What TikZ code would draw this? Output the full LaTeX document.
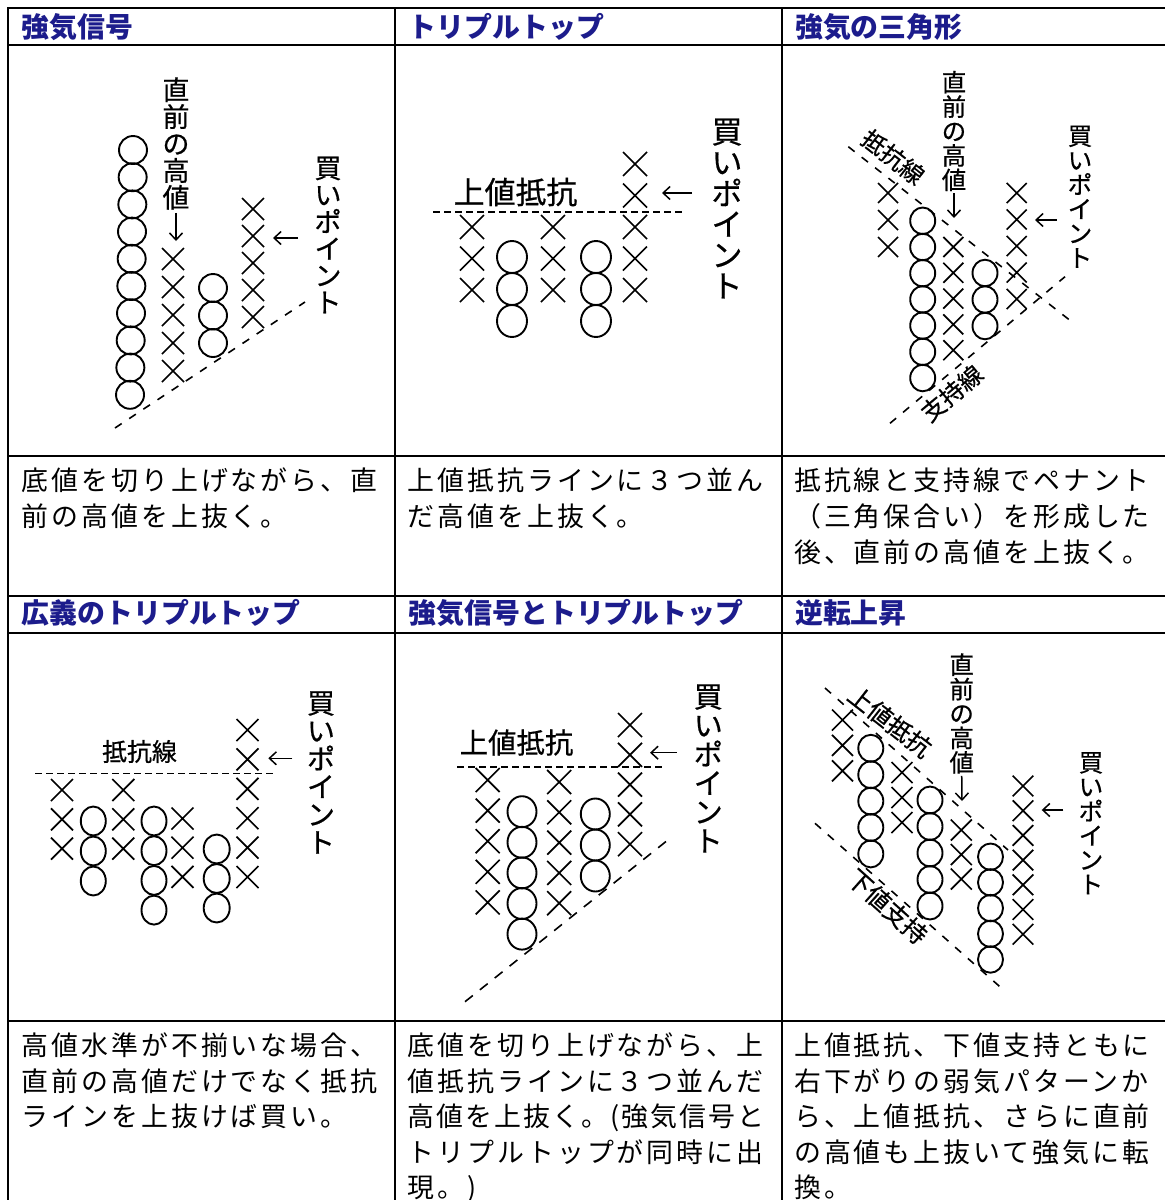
\documentclass[tikz,border=0pt]{standalone}
\usepackage{fontspec}
\usetikzlibrary{arrows.meta}
\newfontfamily\jp{Noto Sans CJK JP}
\newfontfamily\jpl[FakeBold=0.6]{Noto Sans CJK JP}
\newfontfamily\jpsp[LetterSpace=11.1]{Noto Sans CJK JP}
\definecolor{hdrc}{RGB}{28,28,140}
\newcommand\vf[1]{\jpl\fontsize{#1}{#1}\selectfont}
% column of X marks: x0 y0 dx dy n halfsize
\newcommand\xcol[6]{%
  \foreach \k in {1,...,#5}{%
    \pgfmathsetmacro\cx{#1+(\k-1)*(#3)}%
    \pgfmathsetmacro\cy{#2+(\k-1)*(#4)}%
    \draw[xsym] (\cx-#6,\cy-#6) -- (\cx+#6,\cy+#6) (\cx-#6,\cy+#6) -- (\cx+#6,\cy-#6);
  }}
% column of O marks: x0 y0 dx dy n rx ry
\newcommand\ocol[7]{%
  \foreach \k in {1,...,#5}{%
    \pgfmathsetmacro\cx{#1+(\k-1)*(#3)}%
    \pgfmathsetmacro\cy{#2+(\k-1)*(#4)}%
    \draw[osym] (\cx,\cy) ellipse[x radius=#6bp, y radius=#7bp];
  }}
\begin{document}
\begin{tikzpicture}[x=1bp,y=-1bp,
  grid/.style={line width=2bp},
  xsym/.style={line width=1.7bp},
  osym/.style={line width=1.9bp},
  dsh/.style={line width=1.6bp, dash pattern=on 8bp off 9bp},
  dshf/.style={line width=1.6bp, dash pattern=on 7bp off 4bp},
  arr/.style={line width=1.5bp, -{Straight Barb[length=7bp,width=13bp]}},
  hdr/.style={anchor=base west, inner sep=0, text=hdrc, font=\jp\bfseries\fontsize{28}{28}\selectfont},
  body/.style={anchor=base west, inner sep=0, font=\jpsp\fontsize{27}{36}\selectfont},
  bodyp/.style={anchor=base west, inner sep=0, font=\jp\fontsize{27}{36}\selectfont},
  vlab/.style={align=center, inner sep=0},
  hlab/.style={inner sep=0}]
\useasboundingbox (0,0) rectangle (1165,1200);
\fill[white] (0,0) rectangle (1165,1200);
\clip (0,0) rectangle (1165,1200);
% ---------- table grid ----------
\draw[grid] (8,1210) -- (8,8) -- (1175,8);
\draw[grid] (395,8) -- (395,1210);
\draw[grid] (782,8) -- (782,1210);
\foreach \yy in {45,456,596,633,1021}{\draw[grid] (8,\yy) -- (1175,\yy);}
% ---------- headers ----------
\node[hdr] (h1) at (21.5,37.6) {強気信号};
\node[hdr] (h2) at (408.5,37.6) {トリプルトップ};
\node[hdr] (h3) at (795,37.6) {強気の三角形};
\node[hdr] (h4) at (21.5,623.6) {広義のトリプルトップ};
\node[hdr] (h5) at (408.5,623.6) {強気信号とトリプルトップ};
\node[hdr] (h6) at (795,623.6) {逆転上昇};
% ---------- body text ----------
\node[body] (t1a) at (21.5,490.3) {底値を切り上げながら、直};
\node[body] (t1b) at (21.5,526.3) {前の高値を上抜く。};
\node[body] (t2a) at (407.5,490.3) {上値抵抗ラインに３つ並ん};
\node[body] (t2b) at (407.5,526.3) {だ高値を上抜く。};
\node[body] (t3a) at (794,490.3) {抵抗線と支持線でペナント};
\node[body] (t3b) at (794,526.3) {（三角保合い）を形成した};
\node[body] (t3c) at (794,562.3) {後、直前の高値を上抜く。};
\node[body] (t4a) at (21.5,1055.3) {高値水準が不揃いな場合、};
\node[body] (t4b) at (21.5,1091) {直前の高値だけでなく抵抗};
\node[body] (t4c) at (21.5,1126.8) {ラインを上抜けば買い。};
\node[body] (t5a) at (407.5,1055.3) {底値を切り上げながら、上};
\node[body] (t5b) at (407.5,1091) {値抵抗ラインに３つ並んだ};
\node[bodyp] (t5c) at (407.5,1126.8) {\makebox[357bp][s]{高\hfil 値\hfil を\hfil 上\hfil 抜\hfil く\hfil 。\hfil (\hfil 強\hfil 気\hfil 信\hfil 号\hfil と}};
\node[body] (t5d) at (407.5,1162.5) {トリプルトップが同時に出};
\node[body] (t5e) at (407.5,1197.8) {現。)};
\node[body] (t6a) at (794,1055.3) {上値抵抗、下値支持ともに};
\node[body] (t6b) at (794,1091) {右下がりの弱気パターンか};
\node[body] (t6c) at (794,1126.8) {ら、上値抵抗、さらに直前};
\node[body] (t6d) at (794,1162.5) {の高値も上抜いて強気に転};
\node[body] (t6e) at (794,1197.8) {換。};
% ---------- panel 1: 強気信号 ----------
\ocol{133}{150}{-0.33}{27.2}{10}{14}{14}
\xcol{173}{259}{0}{28}{5}{11}
\ocol{213}{288}{0}{27.5}{3}{14}{14}
\xcol{253}{209}{0}{27}{5}{11}
\node[vlab,font=\vf{27}] (p1hi) at (176,143.5) {直\\前\\の\\高\\値};
\coordinate (p1hiend) at (176,241);
\draw[arr,shorten <=3bp] (p1hi.south) -- (p1hiend);
\node[vlab,font=\vf{27}] (p1buy) at (328,235) {買\\い\\ポ\\イ\\ン\\ト};
\coordinate (p1a0) at (298,238); \coordinate (p1a1) at (273,238);
\draw[arr] (p1a0) -- (p1a1);
\coordinate (p1s0) at (115,428); \coordinate (p1s1) at (305,302);
\draw[dsh] (p1s0) -- (p1s1);
% ---------- panel 2: トリプルトップ ----------
\node[hlab,font=\vf{31}] (p2res) at (515.5,192) {上値抵抗};
\coordinate (p2r0) at (433,212); \coordinate (p2r1) at (685,212);
\draw[dshf] (p2r0) -- (p2r1);
\xcol{472}{227}{0}{31.5}{3}{12}
\ocol{512}{257}{0}{32}{3}{15}{16}
\xcol{553}{227}{0}{31.5}{3}{12}
\ocol{596}{257}{0}{32}{3}{15}{16}
\xcol{635}{164}{0}{31.5}{5}{12}
\coordinate (p2a0) at (692,193); \coordinate (p2a1) at (662,193);
\draw[arr] (p2a0) -- (p2a1);
\node[vlab,font=\vf{31}] (p2buy) at (727,208.5) {買\\い\\ポ\\イ\\ン\\ト};
% ---------- panel 3: 強気の三角形 ----------
\node[vlab,font=\vf{24.5}] (p3hi) at (954,131) {直\\前\\の\\高\\値};
\coordinate (p3hiend) at (954,218);
\draw[arr,shorten <=2bp] (p3hi.south) -- (p3hiend);
\coordinate (p3r0) at (848.3,146.7); \coordinate (p3r1) at (1071.7,321.7);
\draw[dsh] (p3r0) -- (p3r1);
\coordinate (p3s0) at (890,423.3); \coordinate (p3s1) at (1065,276.7);
\draw[dsh] (p3s0) -- (p3s1);
\node[hlab,rotate=-38,font=\vf{24}] (p3rl) at (893,157) {抵抗線};
\node[hlab,rotate=40,font=\vf{24}] (p3sl) at (951.7,393.3) {支持線};
\xcol{888}{193}{0}{27}{3}{10}
\ocol{922.7}{220.8}{0}{26.2}{7}{12.5}{13.3}
\xcol{953.3}{247}{0}{25.8}{5}{10}
\ocol{985}{273}{0}{26.5}{3}{12.5}{13.3}
\xcol{1016.7}{193}{0}{26.5}{5}{10}
\coordinate (p3a0) at (1056.7,220); \coordinate (p3a1) at (1035,220);
\draw[arr] (p3a0) -- (p3a1);
\node[vlab,font=\vf{24.5}] (p3buy) at (1080,196.7) {買\\い\\ポ\\イ\\ン\\ト};
% ---------- panel 4: 広義のトリプルトップ ----------
\node[hlab,font=\vf{25}] (p4res) at (139.5,751.5) {抵抗線};
\coordinate (p4r0) at (35,773.3); \coordinate (p4r1) at (273,773.3);
\draw[dshf] (p4r0) -- (p4r1);
\xcol{62}{790}{0}{29.3}{3}{11}
\ocol{93.3}{821}{0}{30}{3}{12.5}{14.5}
\xcol{123.3}{790}{0}{29.3}{3}{11}
\ocol{154}{821}{0}{29.7}{4}{12.5}{14.5}
\xcol{182.5}{818.5}{0}{29.2}{3}{11}
\ocol{216.7}{849}{0}{29.5}{3}{13}{14.5}
\xcol{247.5}{730}{0}{29.4}{6}{11}
\coordinate (p4a0) at (292.3,758.3); \coordinate (p4a1) at (268.3,758.3);
\draw[arr] (p4a0) -- (p4a1);
\node[vlab,font=\vf{28}] (p4buy) at (321,772.5) {買\\い\\ポ\\イ\\ン\\ト};
% ---------- panel 5: 強気信号とトリプルトップ ----------
\node[hlab,font=\vf{28.5}] (p5res) at (516.5,742.5) {上値抵抗};
\coordinate (p5r0) at (457,766.7); \coordinate (p5r1) at (663,766.7);
\draw[dshf] (p5r0) -- (p5r1);
\xcol{487.7}{780}{0}{30.6}{5}{12}
\ocol{522}{811.7}{0}{30.6}{5}{14.5}{15.5}
\xcol{559.2}{782}{0}{30.3}{5}{12}
\ocol{595.3}{814}{0}{31}{3}{14.5}{15.5}
\xcol{630}{725}{0}{29.8}{5}{12}
\coordinate (p5a0) at (676.7,752.7); \coordinate (p5a1) at (650,752.7);
\draw[arr] (p5a0) -- (p5a1);
\node[vlab,font=\vf{29}] (p5buy) at (708.3,768.5) {買\\い\\ポ\\イ\\ン\\ト};
\coordinate (p5s0) at (465,1001.7); \coordinate (p5s1) at (670,838.3);
\draw[dsh,dash pattern=on 10bp off 9bp] (p5s0) -- (p5s1);
% ---------- panel 6: 逆転上昇 ----------
\node[vlab,font=\vf{24.5}] (p6hi) at (961.7,713.5) {直\\前\\の\\高\\値};
\coordinate (p6hiend) at (962,801);
\draw[arr,shorten <=2bp] (p6hi.south) -- (p6hiend);
\coordinate (p6r0) at (825,688); \coordinate (p6r1) at (1008,850);
\draw[dsh] (p6r0) -- (p6r1);
\coordinate (p6s0) at (815,823.3); \coordinate (p6s1) at (1001.7,988.3);
\draw[dsh] (p6s0) -- (p6s1);
\node[hlab,rotate=-38,font=\vf{24.5}] (p6rl) at (890,721.5) {上値抵抗};
\node[hlab,rotate=-42,font=\vf{24.5}] (p6sl) at (887.5,906.5) {下値支持};
\xcol{842.5}{720}{0}{25.4}{3}{10.5}
\ocol{870.8}{748.3}{0}{26.4}{5}{12.5}{13.5}
\xcol{902}{772.5}{0}{25}{3}{10.5}
\ocol{930}{800}{0}{26.5}{5}{12.5}{13.5}
\xcol{961.3}{830}{0}{24.5}{3}{10.5}
\ocol{990.5}{856.7}{0}{25.7}{5}{12.5}{13.2}
\xcol{1023}{786}{0}{24.7}{7}{10.3}
\coordinate (p6a0) at (1063.3,810); \coordinate (p6a1) at (1041.7,810);
\draw[arr] (p6a0) -- (p6a1);
\node[vlab,font=\vf{24.5}] (p6buy) at (1091,823.3) {買\\い\\ポ\\イ\\ン\\ト};
\end{tikzpicture}
\end{document}
